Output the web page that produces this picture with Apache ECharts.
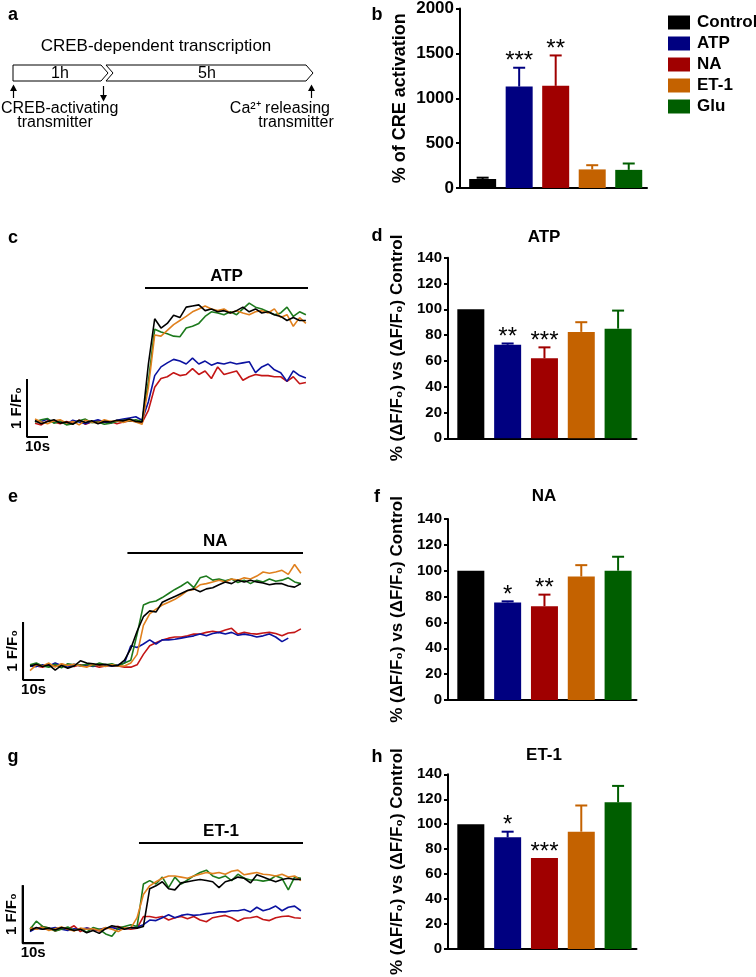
<!DOCTYPE html>
<html><head><meta charset="utf-8">
<script src="https://cdn.jsdelivr.net/npm/echarts/dist/echarts.min.js"></script>
<style>html,body{margin:0;padding:0;background:#fff}#chart{width:756px;height:977px}</style>
</head><body><div id="chart"></div>
<script>
// ---------------- DATA ----------------
const CATEGORIES = ['Control', 'ATP', 'NA', 'ET-1', 'Glu'];

// b: % of CRE activation
const CRE_MEAN = [100, 1130, 1138, 207, 202];
const CRE_ERR = [15, 210, 339, 47, 71];
const CRE_STARS = ['', '***', '**', '', ''];
const CRE_TICKS = [0, 500, 1000, 1500, 2000];

// d, f, h: % (dF/F0) vs (dF/F0) Control
const PCT_TICKS = [0, 20, 40, 60, 80, 100, 120, 140];
const ATP_MEAN = [100, 72.5, 62, 82.5, 85];
const ATP_ERR = [0, 1, 8.5, 7.5, 14];
const ATP_STARS = ['', '**', '***', '', ''];
const NA_MEAN = [100, 75.5, 72.5, 95.5, 100];
const NA_ERR = [0, 0.8, 9, 8.8, 10.8];
const NA_STARS = ['', '*', '**', '', ''];
const ET_MEAN = [100, 89.5, 73, 94, 117.5];
const ET_ERR = [0, 4.5, 0, 21, 13.2];
const ET_STARS = ['', '*', '***', '', ''];

// c, e, g: calcium traces (F/F0 above baseline), sampled every 3 s
const TIME = [0,3,6,9,12,15,18,21,24,27,30,33,36,39,42,45,48,51,54,57,60,63,66,69,72,75,78,81,84,87,90,93,96,99,102,105,108,111,114,117,120,123,126,129];

const ATP_TR_CONTROL = [0.02,-0.03,0.01,0.04,-0.02,0.00,-0.04,0.03,-0.01,0.02,-0.03,0.01,0.00,0.03,0.02,0.05,0.01,0.00,1.00,1.78,1.62,1.70,1.84,1.80,1.98,2.00,2.02,1.92,1.95,1.90,1.92,1.88,1.92,1.98,1.90,1.95,1.88,1.90,1.85,1.82,1.75,1.80,1.75,1.75];
const ATP_TR_ATP = [0.03,0.01,0.05,-0.01,0.02,-0.04,0.03,0.00,-0.03,0.01,0.04,0.00,-0.02,0.03,0.05,0.07,0.09,0.03,0.35,0.80,0.95,1.02,1.08,1.05,1.00,1.10,1.00,1.05,0.98,1.02,1.00,1.03,1.00,1.02,1.04,0.85,0.95,1.00,0.90,0.85,0.70,0.88,0.80,0.76];
const ATP_TR_NA = [-0.02,-0.05,0.02,0.00,-0.03,0.01,-0.02,0.03,-0.04,0.00,0.02,-0.01,0.01,-0.03,0.00,0.02,0.01,-0.01,0.20,0.60,0.75,0.78,0.85,0.80,0.82,0.92,0.82,0.88,0.75,0.95,0.82,0.85,0.88,0.72,0.78,0.82,0.80,0.80,0.78,0.78,0.70,0.78,0.66,0.68];
const ATP_TR_ET = [0.05,0.00,-0.03,0.02,0.04,-0.02,0.01,-0.05,0.03,0.00,-0.02,0.04,0.01,0.02,-0.01,0.03,0.00,-0.04,0.60,1.50,1.48,1.58,1.68,1.75,1.82,1.90,1.95,2.00,1.95,1.92,1.95,1.88,1.92,1.88,1.85,1.90,1.92,1.88,1.95,1.80,1.85,1.65,1.80,1.70];
const ATP_TR_GLU = [0.00,0.04,0.06,-0.02,0.01,-0.05,-0.03,0.02,0.05,-0.01,0.00,-0.04,-0.02,0.01,0.03,0.02,0.04,0.01,0.70,1.60,1.55,1.52,1.48,1.47,1.62,1.65,1.70,1.82,1.90,1.88,1.85,1.90,1.85,1.95,2.05,1.98,1.95,1.90,1.85,1.88,1.98,1.82,1.90,1.85];

const NA_TR_CONTROL = [0.00,0.03,-0.01,0.02,-0.07,0.01,-0.04,0.00,0.09,0.05,0.04,0.02,0.03,0.00,0.01,0.10,0.30,0.60,0.85,0.95,0.93,1.10,1.15,1.20,1.25,1.30,1.33,1.28,1.33,1.35,1.40,1.45,1.42,1.48,1.45,1.48,1.45,1.43,1.40,1.42,1.42,1.38,1.36,1.42];
const NA_TR_ATP = [0.00,-0.01,0.02,0.00,0.05,0.01,-0.02,0.03,0.00,0.02,-0.01,0.03,0.01,0.00,0.02,0.05,0.35,0.32,0.38,0.45,0.38,0.45,0.45,0.46,0.48,0.50,0.52,0.55,0.52,0.56,0.58,0.55,0.58,0.53,0.55,0.53,0.50,0.52,0.55,0.50,0.42,0.48];
const NA_TR_NA = [0.01,0.00,-0.02,0.02,0.00,0.03,0.01,-0.01,0.02,0.00,0.01,-0.02,0.00,0.01,0.00,-0.02,-0.02,0.02,0.20,0.35,0.40,0.45,0.48,0.50,0.50,0.52,0.55,0.55,0.58,0.60,0.58,0.62,0.65,0.55,0.58,0.56,0.55,0.57,0.58,0.56,0.52,0.57,0.58,0.64];
const NA_TR_ET = [-0.08,0.02,0.00,0.05,-0.02,0.04,0.01,0.03,0.00,-0.02,0.03,0.01,-0.01,0.02,0.00,0.00,0.05,0.20,0.70,0.90,0.98,1.05,1.10,1.15,1.22,1.30,1.32,1.40,1.42,1.45,1.48,1.45,1.50,1.48,1.52,1.50,1.55,1.62,1.60,1.62,1.65,1.58,1.75,1.60];
const NA_TR_GLU = [0.02,0.05,0.00,-0.02,0.03,-0.03,0.04,0.02,0.01,0.03,0.00,0.05,0.02,0.04,0.00,0.05,0.10,0.55,1.05,1.10,1.12,1.18,1.25,1.32,1.38,1.45,1.35,1.52,1.55,1.48,1.50,1.47,1.50,1.44,1.48,1.42,1.48,1.45,1.50,1.46,1.48,1.52,1.45,1.42];

const ET_TR_CONTROL = [-0.02,0.03,0.00,0.02,-0.01,0.03,0.01,-0.02,0.00,-0.06,-0.02,-0.07,0.01,0.06,0.04,0.00,0.03,0.02,0.05,0.70,0.75,0.82,0.70,0.68,0.80,0.82,0.84,0.86,0.84,0.82,0.72,0.82,0.85,0.90,0.88,0.80,0.94,0.90,0.86,0.82,0.86,0.88,0.86,0.86];
const ET_TR_ATP = [-0.04,0.02,0.00,0.01,0.03,0.00,-0.02,0.01,0.00,0.02,-0.01,0.00,0.02,0.03,0.00,0.01,0.02,0.04,0.08,0.16,0.15,0.20,0.25,0.20,0.24,0.26,0.24,0.25,0.27,0.28,0.30,0.30,0.32,0.32,0.34,0.30,0.38,0.32,0.35,0.40,0.32,0.38,0.40,0.32];
const ET_TR_NA = [0.03,0.00,0.05,0.02,-0.03,0.01,0.00,0.06,-0.04,0.02,0.00,-0.03,0.01,0.03,0.05,0.02,0.00,0.02,0.22,0.22,0.20,0.22,0.16,0.20,0.22,0.18,0.22,0.16,0.13,0.20,0.22,0.24,0.20,0.14,0.19,0.20,0.22,0.17,0.15,0.20,0.22,0.23,0.20,0.19];
const ET_TR_ET = [0.02,0.00,0.03,-0.02,0.01,0.04,0.00,-0.03,0.02,0.00,0.01,-0.02,0.03,0.00,-0.04,0.02,0.02,0.20,0.60,0.75,0.82,0.88,0.92,0.92,0.90,0.88,0.92,0.95,0.98,0.96,0.98,0.95,1.00,1.02,0.94,0.96,0.98,0.95,0.94,0.92,0.95,0.90,0.92,0.84];
const ET_TR_GLU = [0.00,0.14,0.05,0.02,-0.03,0.00,0.04,-0.02,0.01,-0.05,0.03,0.00,-0.08,-0.12,0.02,0.05,0.08,0.05,0.78,0.84,0.78,0.90,0.72,0.90,0.78,0.85,0.92,0.98,1.02,0.92,0.88,0.92,0.84,0.95,0.88,0.85,0.85,0.83,0.85,0.92,0.88,0.68,0.90,0.88];

// stimulus bars (time s, level F/F0) and scale bars (10 s, 1 F/F0)
const STIM_ATP = [[52.4, 2.31], [130, 2.31]];
const STIM_NA = [[46.5, 1.95], [130, 1.95]];
const STIM_ET = [[51.9, 1.49], [130, 1.49]];
const SCALE_C = [[-3.8, 0.74], [-3.8, -0.26], [6.2, -0.26]];
const SCALE_E = [[-3.3, 0.76], [-3.3, -0.24], [6.7, -0.24]];
const SCALE_G = [[-3.5, 0.76], [-3.5, -0.24], [6.5, -0.24]];

// ---------------- STYLE ----------------
const FONT = "'Liberation Sans', Arial, Helvetica, sans-serif";
const BAR_COLORS = ['#000000', '#000080', '#a00000', '#c46200', '#005e00'];
const TRACE_COLORS = ['#000000', '#0b12a0', '#c41616', '#e0801e', '#1d7a1d'];

const chart = echarts.init(document.getElementById('chart'), null, {renderer: 'canvas'});

const grids = [
  {left: 460, top: 7, width: 187, height: 181},       // b
  {left: 448, top: 257.7, width: 188.5, height: 180.6}, // d
  {left: 448, top: 519, width: 188.5, height: 181},   // f
  {left: 448, top: 774.3, width: 188.5, height: 181.7}, // h
  {left: 14, top: 265.4, width: 294, height: 174},    // c
  {left: 9, top: 515.2, width: 294, height: 174},     // e
  {left: 9, top: 813.3, width: 294, height: 139.2}    // g
];

const xAxes = [], yAxes = [], series = [];
const PCT_NAME = '% (ΔF/F₀) vs (ΔF/F₀) Control';

function barPanel(gi, ticks, means, errs, stars, labelSize, name, nameGap, nameSize) {
  xAxes.push({gridIndex: gi, type: 'value', min: -0.62, max: 4.5,
    axisLine: {show: true, onZero: false, lineStyle: {color: '#000', width: 2}},
    axisTick: {show: false}, axisLabel: {show: false}, splitLine: {show: false}});
  yAxes.push({gridIndex: gi, type: 'value', min: ticks[0], max: ticks[ticks.length - 1],
    interval: ticks[1] - ticks[0],
    axisLine: {show: true, onZero: false, lineStyle: {color: '#000', width: 2}},
    axisTick: {show: true, length: 4, lineStyle: {color: '#000', width: 2}},
    axisLabel: {color: '#000', fontWeight: 'bold', fontSize: labelSize, fontFamily: FONT, margin: 6,
      formatter: v => String(v)},
    splitLine: {show: false},
    name: name, nameLocation: 'middle', nameGap: nameGap,
    nameTextStyle: {color: '#000', fontWeight: 'bold', fontSize: nameSize, fontFamily: FONT}});
  series.push({type: 'bar', xAxisIndex: gi, yAxisIndex: gi, barWidth: 27, z: 2, silent: true,
    data: means.map((m, i) => ({value: [i, m], itemStyle: {color: BAR_COLORS[i]}}))});
  series.push({type: 'custom', xAxisIndex: gi, yAxisIndex: gi, z: 3, silent: true,
    data: means.map((m, i) => [i, m, errs[i]]),
    renderItem: (params, api) => {
      const i = api.value(0), m = api.value(1), e = api.value(2);
      const base = api.coord([i, m]), top = api.coord([i, m + e]);
      const col = BAR_COLORS[i];
      const children = [];
      if (e > 0) {
        children.push({type: 'line', shape: {x1: base[0], y1: base[1], x2: top[0], y2: top[1]}, style: {stroke: col, lineWidth: 2}});
        children.push({type: 'line', shape: {x1: top[0] - 6, y1: top[1], x2: top[0] + 6, y2: top[1]}, style: {stroke: col, lineWidth: 2}});
      }
      if (stars[i]) {
        children.push({type: 'text', x: top[0], y: top[1] + 6,
          style: {text: stars[i], textAlign: 'center', textVerticalAlign: 'bottom', font: '24px ' + FONT, fill: '#000'}});
      }
      return {type: 'group', children: children};
    }});
}

barPanel(0, CRE_TICKS, CRE_MEAN, CRE_ERR, CRE_STARS, 17, '% of CRE activation', 51, 18);
barPanel(1, PCT_TICKS, ATP_MEAN, ATP_ERR, ATP_STARS, 15, PCT_NAME, 42, 17);
barPanel(2, PCT_TICKS, NA_MEAN, NA_ERR, NA_STARS, 15, PCT_NAME, 42, 17);
barPanel(3, PCT_TICKS, ET_MEAN, ET_ERR, ET_STARS, 15, PCT_NAME, 42, 17);

// legend dummy series on grid b
CATEGORIES.forEach((c, i) => {
  series.push({type: 'scatter', name: c, xAxisIndex: 0, yAxisIndex: 0, data: [],
    itemStyle: {color: BAR_COLORS[i], opacity: 1}});
});

function tracePanel(gi, ymin, ymax, traces, stim, stimLabel, scale) {
  xAxes.push({gridIndex: gi, type: 'value', min: -10, max: 130, show: false});
  yAxes.push({gridIndex: gi, type: 'value', min: ymin, max: ymax, show: false});
  const order = [2, 1, 4, 3, 0];
  order.forEach(k => {
    const arr = traces[k];
    series.push({type: 'line', xAxisIndex: gi, yAxisIndex: gi, symbol: 'none', silent: true,
      lineStyle: {color: TRACE_COLORS[k], width: 1.6}, z: 2,
      data: arr.map((v, j) => [TIME[j], v])});
  });
  series.push({type: 'line', xAxisIndex: gi, yAxisIndex: gi, symbol: 'none', silent: true,
    lineStyle: {color: '#000', width: 2}, data: stim,
    markLine: {silent: true, symbol: ['none', 'none'], lineStyle: {color: '#000', width: 2, type: 'solid'},
      label: {show: true, position: 'middle', formatter: stimLabel, color: '#000', fontWeight: 'bold', fontSize: 17, fontFamily: FONT, distance: 3},
      data: [[{coord: stim[0]}, {coord: stim[1]}]]}});
  series.push({type: 'line', xAxisIndex: gi, yAxisIndex: gi, symbol: 'none', silent: true,
    lineStyle: {color: '#000', width: 2}, data: scale,
    markLine: {silent: true, symbol: ['none', 'none'], lineStyle: {color: '#000', width: 2, type: 'solid'},
      data: [
        [{coord: scale[1], label: {show: true, position: 'middle', formatter: '1 F/F₀', color: '#000', fontWeight: 'bold', fontSize: 15, fontFamily: FONT, distance: 3}},
         {coord: scale[0]}],
        [{coord: scale[1], label: {show: true, position: 'insideMiddleBottom', formatter: '10s', color: '#000', fontWeight: 'bold', fontSize: 15, fontFamily: FONT, distance: 2}},
         {coord: scale[2]}]
      ]}});
}

tracePanel(4, -0.3, 2.7, [ATP_TR_CONTROL, ATP_TR_ATP, ATP_TR_NA, ATP_TR_ET, ATP_TR_GLU], STIM_ATP, 'ATP', SCALE_C);
tracePanel(5, -0.4, 2.6, [NA_TR_CONTROL, NA_TR_ATP, NA_TR_NA, NA_TR_ET, NA_TR_GLU], STIM_NA, 'NA', SCALE_E);
tracePanel(6, -0.4, 2.0, [ET_TR_CONTROL, ET_TR_ATP, ET_TR_NA, ET_TR_ET, ET_TR_GLU], STIM_ET, 'ET-1', SCALE_G);

// ---------------- panel a diagram & texts ----------------
function txt(x, y, text, font, align) {
  return {type: 'text', x: x, y: y, silent: true,
    style: {text: text, font: font, fill: '#000', textAlign: align || 'center', textVerticalAlign: 'middle'}};
}
const B18 = 'bold 18px ' + FONT;
const graphic = [
  txt(13, 15, 'a', B18), txt(377, 15, 'b', B18),
  txt(13, 238, 'c', B18), txt(377, 236, 'd', B18),
  txt(13, 497, 'e', B18), txt(377, 497, 'f', B18),
  txt(13, 757, 'g', B18), txt(377, 757, 'h', B18),
  txt(544, 237, 'ATP', 'bold 17px ' + FONT),
  txt(544, 496, 'NA', 'bold 17px ' + FONT),
  txt(544, 755, 'ET-1', 'bold 17px ' + FONT),
  txt(156, 46, 'CREB-dependent transcription', '17px ' + FONT),
  {type: 'polygon', silent: true, shape: {points: [[13, 65], [101, 65], [108, 73], [101, 81], [13, 81]]}, style: {fill: '#fff', stroke: '#000', lineWidth: 1}},
  {type: 'polygon', silent: true, shape: {points: [[106, 65], [306, 65], [313, 73], [306, 81], [106, 81], [113, 73]]}, style: {fill: '#fff', stroke: '#000', lineWidth: 1}},
  txt(60, 73.5, '1h', '16px ' + FONT), txt(207, 73.5, '5h', '16px ' + FONT),
  {type: 'line', silent: true, shape: {x1: 13.5, y1: 98, x2: 13.5, y2: 89}, style: {stroke: '#000', lineWidth: 1.2}},
  {type: 'polygon', silent: true, shape: {points: [[13.5, 84.5], [10, 91], [17, 91]]}, style: {fill: '#000'}},
  {type: 'line', silent: true, shape: {x1: 103.5, y1: 86, x2: 103.5, y2: 96}, style: {stroke: '#000', lineWidth: 1.2}},
  {type: 'polygon', silent: true, shape: {points: [[103.5, 101.5], [100, 95], [107, 95]]}, style: {fill: '#000'}},
  {type: 'line', silent: true, shape: {x1: 311.5, y1: 98, x2: 311.5, y2: 89}, style: {stroke: '#000', lineWidth: 1.2}},
  {type: 'polygon', silent: true, shape: {points: [[311.5, 84.5], [308, 91], [315, 91]]}, style: {fill: '#000'}},
  txt(1, 108.5, 'CREB-activating', '16px ' + FONT, 'left'),
  txt(55, 123, 'transmitter', '16px ' + FONT),
  txt(330, 108.5, 'Ca²⁺ releasing', '16px ' + FONT, 'right'),
  txt(296, 123, 'transmitter', '16px ' + FONT)
];

chart.setOption({
  animation: false,
  backgroundColor: '#fff',
  textStyle: {fontFamily: FONT},
  grid: grids,
  xAxis: xAxes,
  yAxis: yAxes,
  legend: {data: CATEGORIES, orient: 'vertical', left: 663, top: 9, icon: 'rect',
    itemWidth: 22, itemHeight: 14, itemGap: 4, selectedMode: false,
    itemStyle: {opacity: 1, borderWidth: 0},
    textStyle: {color: '#000', fontWeight: 'bold', fontSize: 17, fontFamily: FONT, padding: [0, 0, 0, 2]}},
  series: series,
  graphic: graphic
});
</script></body></html>
